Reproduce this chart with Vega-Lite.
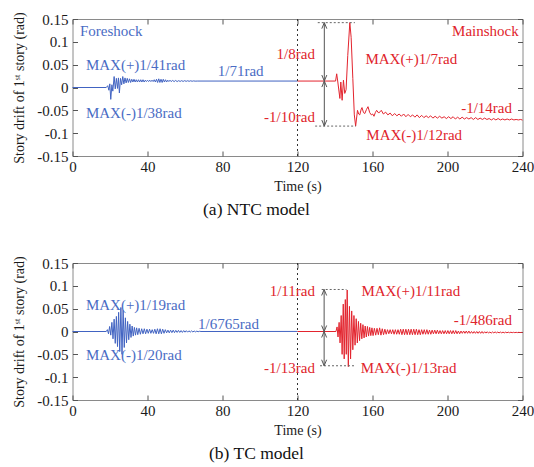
{
"$schema": "https://vega.github.io/schema/vega-lite/v6.json",
"background": "white",
"padding": {"left": 11.5, "top": 11, "right": 0, "bottom": 0},
"spacing": 36,
"datasets": {
"aF": [{"t":0,"v":0},{"t":18,"v":0},{"t":18.8,"v":0.004},{"t":19.4,"v":-0.006},{"t":19.9,"v":0.008},{"t":20.4,"v":-0.026},{"t":21,"v":0.006},{"t":21.5,"v":-0.008},{"t":22.2,"v":0.024},{"t":22.8,"v":-0.003},{"t":23.4,"v":0.02},{"t":24,"v":-0.002},{"t":24.5,"v":0.021},{"t":25,"v":-0.012},{"t":25.6,"v":0.02},{"t":26.2,"v":0.006},{"t":26.8,"v":0.024},{"t":27.4,"v":0.008},{"t":28,"v":0.021},{"t":28.6,"v":0.01},{"t":29.2,"v":0.02},{"t":29.8,"v":0.011},{"t":30.4,"v":0.019},{"t":31,"v":0.011},{"t":31.6,"v":0.018},{"t":32.2,"v":0.012},{"t":32.8,"v":0.018},{"t":33.4,"v":0.012},{"t":34,"v":0.017},{"t":34.6,"v":0.012},{"t":35.2,"v":0.017},{"t":35.8,"v":0.012},{"t":36.4,"v":0.017},{"t":37,"v":0.012},{"t":37.6,"v":0.017},{"t":38.2,"v":0.012},{"t":38.8,"v":0.016},{"t":39.4,"v":0.013},{"t":40,"v":0.016},{"t":40.6,"v":0.013},{"t":41.2,"v":0.016},{"t":41.8,"v":0.013},{"t":42.4,"v":0.016},{"t":43,"v":0.013},{"t":43.6,"v":0.017},{"t":44.2,"v":0.012},{"t":44.8,"v":0.018},{"t":45.4,"v":0.011},{"t":46,"v":0.019},{"t":46.6,"v":0.011},{"t":47.2,"v":0.018},{"t":47.8,"v":0.011},{"t":48.4,"v":0.018},{"t":49,"v":0.012},{"t":49.6,"v":0.017},{"t":50.2,"v":0.012},{"t":50.8,"v":0.016},{"t":51.4,"v":0.013},{"t":52,"v":0.016},{"t":52.6,"v":0.013},{"t":53.4,"v":0.0155},{"t":54.2,"v":0.013},{"t":55,"v":0.0155},{"t":55.8,"v":0.013},{"t":56.6,"v":0.015},{"t":57.4,"v":0.0133},{"t":58.2,"v":0.015},{"t":59,"v":0.0133},{"t":59.8,"v":0.015},{"t":60.6,"v":0.0135},{"t":61.4,"v":0.0148},{"t":62.2,"v":0.0136},{"t":63,"v":0.0147},{"t":63.8,"v":0.0137},{"t":64.6,"v":0.0145},{"t":65.4,"v":0.0139},{"t":66.5,"v":0.0141},{"t":120,"v":0.0141}],
"aM": [{"t":120,"v":0.0141},{"t":140.3,"v":0.0141},{"t":140.9,"v":0.03},{"t":141.5,"v":0.012},{"t":142.6,"v":-0.024},{"t":143.1,"v":0.012},{"t":143.8,"v":-0.028},{"t":144.5,"v":0.016},{"t":145.2,"v":-0.013},{"t":145.9,"v":-0.005},{"t":146.8,"v":0.07},{"t":147.9,"v":0.142},{"t":148.6,"v":0.11},{"t":149.5,"v":0.02},{"t":150.3,"v":-0.06},{"t":151,"v":-0.0845},{"t":152,"v":-0.05},{"t":152.6,"v":-0.058},{"t":153.2,"v":-0.06},{"t":154,"v":-0.047},{"t":154.4,"v":-0.044},{"t":155.2,"v":-0.055},{"t":155.9,"v":-0.057},{"t":156.8,"v":-0.048},{"t":157.6,"v":-0.042},{"t":158.5,"v":-0.055},{"t":159.4,"v":-0.06},{"t":160.1,"v":-0.058},{"t":160.8,"v":-0.063},{"t":161.5,"v":-0.055},{"t":162.2,"v":-0.05},{"t":163.3,"v":-0.056},{"t":164.7,"v":-0.05},{"t":165.8,"v":-0.058},{"t":167,"v":-0.054},{"t":168.2,"v":-0.06},{"t":169.4,"v":-0.056},{"t":170.6,"v":-0.062},{"t":171.8,"v":-0.057},{"t":173,"v":-0.062},{"t":174.2,"v":-0.058},{"t":175.4,"v":-0.063},{"t":176.6,"v":-0.058},{"t":177.8,"v":-0.064},{"t":179,"v":-0.059},{"t":180.2,"v":-0.064},{"t":181.4,"v":-0.06},{"t":182.6,"v":-0.065},{"t":183.8,"v":-0.06},{"t":185,"v":-0.066},{"t":186.2,"v":-0.061},{"t":187.4,"v":-0.066},{"t":188.6,"v":-0.062},{"t":189.8,"v":-0.066},{"t":191,"v":-0.062},{"t":192.2,"v":-0.067},{"t":193.4,"v":-0.063},{"t":194.6,"v":-0.067},{"t":195.8,"v":-0.063},{"t":197,"v":-0.067},{"t":198.2,"v":-0.064},{"t":199.4,"v":-0.068},{"t":200.6,"v":-0.064},{"t":201.8,"v":-0.068},{"t":203,"v":-0.064},{"t":204.2,"v":-0.069},{"t":205.4,"v":-0.065},{"t":206.6,"v":-0.069},{"t":207.8,"v":-0.065},{"t":209,"v":-0.069},{"t":210.2,"v":-0.066},{"t":211.4,"v":-0.069},{"t":212.6,"v":-0.066},{"t":213.8,"v":-0.07},{"t":215,"v":-0.066},{"t":216.2,"v":-0.07},{"t":217.4,"v":-0.067},{"t":218.6,"v":-0.07},{"t":219.8,"v":-0.067},{"t":221,"v":-0.07},{"t":222.2,"v":-0.068},{"t":223.4,"v":-0.071},{"t":224.6,"v":-0.068},{"t":225.8,"v":-0.071},{"t":227,"v":-0.068},{"t":228.2,"v":-0.071},{"t":229.4,"v":-0.069},{"t":230.6,"v":-0.071},{"t":231.8,"v":-0.069},{"t":233,"v":-0.071},{"t":234.2,"v":-0.069},{"t":235.4,"v":-0.071},{"t":236.6,"v":-0.07},{"t":237.8,"v":-0.071},{"t":239,"v":-0.07},{"t":240,"v":-0.0714}],
"bF": [{"t":0,"v":0},{"t":18,"v":0},{"t":18.6,"v":0.004},{"t":19.2,"v":-0.005},{"t":19.8,"v":0.011},{"t":20.4,"v":-0.008},{"t":21,"v":0.02},{"t":21.6,"v":-0.016},{"t":22.2,"v":0.027},{"t":22.8,"v":-0.026},{"t":23.4,"v":0.033},{"t":24,"v":-0.033},{"t":24.6,"v":0.042},{"t":25.2,"v":-0.044},{"t":25.8,"v":0.0526},{"t":26.4,"v":-0.05},{"t":27,"v":0.046},{"t":27.6,"v":-0.035},{"t":28.2,"v":0.03},{"t":28.8,"v":-0.025},{"t":29.4,"v":0.022},{"t":30,"v":-0.018},{"t":30.6,"v":0.016},{"t":31.2,"v":-0.013},{"t":31.8,"v":0.012},{"t":32.4,"v":-0.01},{"t":33,"v":0.009},{"t":33.6,"v":-0.008},{"t":34.2,"v":0.008},{"t":34.8,"v":-0.007},{"t":35.5,"v":0.007},{"t":36.2,"v":-0.006},{"t":36.9,"v":0.006},{"t":37.6,"v":-0.005},{"t":38.3,"v":0.006},{"t":39,"v":-0.005},{"t":39.7,"v":0.005},{"t":40.4,"v":-0.004},{"t":41.1,"v":0.005},{"t":41.8,"v":-0.004},{"t":42.5,"v":0.004},{"t":43.2,"v":-0.004},{"t":43.9,"v":0.005},{"t":44.6,"v":-0.005},{"t":45.3,"v":0.006},{"t":46,"v":-0.005},{"t":46.7,"v":0.006},{"t":47.4,"v":-0.005},{"t":48.1,"v":0.005},{"t":48.8,"v":-0.004},{"t":49.5,"v":0.004},{"t":50.2,"v":-0.003},{"t":50.9,"v":0.003},{"t":51.6,"v":-0.003},{"t":52.3,"v":0.003},{"t":53,"v":-0.0025},{"t":53.7,"v":0.003},{"t":54.4,"v":-0.0025},{"t":55.1,"v":0.0025},{"t":55.8,"v":-0.002},{"t":56.5,"v":0.0025},{"t":57.2,"v":-0.002},{"t":57.9,"v":0.002},{"t":58.6,"v":-0.002},{"t":59.3,"v":0.002},{"t":60,"v":-0.0015},{"t":60.7,"v":0.0018},{"t":61.4,"v":-0.0015},{"t":62.1,"v":0.0015},{"t":62.8,"v":-0.0012},{"t":63.5,"v":0.0013},{"t":64.2,"v":-0.001},{"t":64.9,"v":0.001},{"t":65.6,"v":-0.0008},{"t":66.3,"v":0.0008},{"t":67,"v":-0.0005},{"t":67.7,"v":0.0005},{"t":68.5,"v":0},{"t":120,"v":0.00015}],
"bM": [{"t":120,"v":0},{"t":140.5,"v":0},{"t":141.1,"v":0.01},{"t":141.6,"v":-0.012},{"t":142.2,"v":0.02},{"t":142.7,"v":-0.025},{"t":143.3,"v":0.035},{"t":143.8,"v":-0.05},{"t":144.4,"v":0.06},{"t":144.9,"v":-0.06},{"t":145.5,"v":0.07},{"t":146,"v":-0.05},{"t":146.5,"v":0.0909},{"t":147.1,"v":-0.077},{"t":147.7,"v":0.055},{"t":148.3,"v":-0.06},{"t":148.9,"v":0.045},{"t":149.5,"v":-0.04},{"t":150.1,"v":0.035},{"t":150.7,"v":-0.03},{"t":151.3,"v":0.028},{"t":151.9,"v":-0.025},{"t":152.5,"v":0.022},{"t":153.1,"v":-0.02},{"t":153.7,"v":0.018},{"t":154.3,"v":-0.016},{"t":154.9,"v":0.015},{"t":155.5,"v":-0.014},{"t":156.1,"v":0.012},{"t":156.7,"v":-0.012},{"t":157.3,"v":0.011},{"t":157.9,"v":-0.01},{"t":158.5,"v":0.009},{"t":159.1,"v":-0.009},{"t":159.7,"v":0.008},{"t":160.3,"v":-0.009},{"t":161,"v":0.007},{"t":161.7,"v":-0.008},{"t":162.4,"v":0.007},{"t":163.1,"v":-0.007},{"t":163.8,"v":0.008},{"t":164.5,"v":-0.008},{"t":165.2,"v":0.006},{"t":165.9,"v":-0.007},{"t":166.6,"v":0.005},{"t":167.3,"v":-0.006},{"t":168,"v":0.004},{"t":168.7,"v":-0.005},{"t":169.4,"v":0.004},{"t":170.1,"v":-0.005},{"t":170.8,"v":0.004},{"t":171.5,"v":-0.006},{"t":172.2,"v":0.004},{"t":172.9,"v":-0.006},{"t":173.6,"v":0.004},{"t":174.3,"v":-0.006},{"t":175,"v":0.005},{"t":175.7,"v":-0.007},{"t":176.4,"v":0.005},{"t":177.1,"v":-0.007},{"t":177.8,"v":0.005},{"t":178.5,"v":-0.007},{"t":179.2,"v":0.005},{"t":179.9,"v":-0.007},{"t":180.6,"v":0.005},{"t":181.3,"v":-0.007},{"t":182,"v":0.005},{"t":182.7,"v":-0.007},{"t":183.4,"v":0.005},{"t":184.1,"v":-0.007},{"t":184.8,"v":0.004},{"t":185.5,"v":-0.007},{"t":186.2,"v":0.004},{"t":186.9,"v":-0.006},{"t":187.6,"v":0.004},{"t":188.3,"v":-0.006},{"t":189,"v":0.004},{"t":189.7,"v":-0.006},{"t":190.4,"v":0.003},{"t":191.1,"v":-0.006},{"t":191.8,"v":0.003},{"t":192.5,"v":-0.005},{"t":193.2,"v":0.003},{"t":193.9,"v":-0.005},{"t":194.6,"v":0.003},{"t":195.3,"v":-0.005},{"t":196,"v":0.002},{"t":196.7,"v":-0.005},{"t":197.4,"v":0.002},{"t":198.1,"v":-0.005},{"t":198.8,"v":0.002},{"t":199.5,"v":-0.005},{"t":200.2,"v":0.002},{"t":200.9,"v":-0.005},{"t":201.6,"v":0.002},{"t":202.3,"v":-0.005},{"t":203,"v":0.002},{"t":203.7,"v":-0.005},{"t":204.4,"v":0.002},{"t":205.1,"v":-0.005},{"t":205.8,"v":0.001},{"t":206.5,"v":-0.005},{"t":207.2,"v":0.001},{"t":207.9,"v":-0.004},{"t":208.6,"v":0.001},{"t":209.3,"v":-0.004},{"t":210,"v":0.001},{"t":210.7,"v":-0.004},{"t":211.4,"v":0.001},{"t":212.1,"v":-0.004},{"t":212.8,"v":0},{"t":213.5,"v":-0.004},{"t":214.2,"v":0},{"t":214.9,"v":-0.004},{"t":215.6,"v":0},{"t":216.3,"v":-0.004},{"t":217,"v":0},{"t":217.7,"v":-0.004},{"t":218.4,"v":0},{"t":219.1,"v":-0.004},{"t":219.8,"v":-0.0005},{"t":220.5,"v":-0.0035},{"t":221.2,"v":-0.0005},{"t":221.9,"v":-0.0035},{"t":222.6,"v":-0.001},{"t":223.3,"v":-0.0035},{"t":224,"v":-0.001},{"t":224.7,"v":-0.003},{"t":225.4,"v":-0.001},{"t":226.1,"v":-0.003},{"t":226.8,"v":-0.0012},{"t":227.5,"v":-0.003},{"t":228.2,"v":-0.0012},{"t":228.9,"v":-0.003},{"t":229.6,"v":-0.0013},{"t":230.3,"v":-0.003},{"t":231,"v":-0.0014},{"t":231.7,"v":-0.0028},{"t":232.4,"v":-0.0015},{"t":233.1,"v":-0.0027},{"t":233.8,"v":-0.0016},{"t":234.5,"v":-0.0026},{"t":235.2,"v":-0.0017},{"t":235.9,"v":-0.0025},{"t":236.6,"v":-0.0018},{"t":237.3,"v":-0.0024},{"t":238,"v":-0.0019},{"t":238.7,"v":-0.0023},{"t":239.4,"v":-0.002},{"t":240,"v":-0.0021}],
"aT": [{"t":3.97,"v":0.123,"label":"Foreshock","c":"b","al":"left"},{"t":7.15,"v":0.0487,"label":"MAX(+)1/41rad","c":"b","al":"left"},{"t":7.15,"v":-0.0555,"label":"MAX(-)1/38rad","c":"b","al":"left"},{"t":89.7,"v":0.0356,"label":"1/71rad","c":"b","al":"center"},{"t":129.3,"v":0.0742,"label":"1/8rad","c":"r","al":"right"},{"t":129.3,"v":-0.0642,"label":"-1/10rad","c":"r","al":"right"},{"t":156.2,"v":0.0633,"label":"MAX(+)1/7rad","c":"r","al":"left"},{"t":156.7,"v":-0.104,"label":"MAX(-)1/12rad","c":"r","al":"left"},{"t":234.4,"v":-0.0459,"label":"-1/14rad","c":"r","al":"right"},{"t":238,"v":0.123,"label":"Mainshock","c":"r","al":"right"}],
"bT": [{"t":7.15,"v":0.0588,"label":"MAX(+)1/19rad","c":"b","al":"left"},{"t":7.15,"v":-0.0513,"label":"MAX(-)1/20rad","c":"b","al":"left"},{"t":83.2,"v":0.0163,"label":"1/6765rad","c":"b","al":"center"},{"t":129.3,"v":0.088,"label":"1/11rad","c":"r","al":"right"},{"t":129.3,"v":-0.0806,"label":"-1/13rad","c":"r","al":"right"},{"t":154.1,"v":0.088,"label":"MAX(+)1/11rad","c":"r","al":"left"},{"t":153.7,"v":-0.0806,"label":"MAX(-)1/13rad","c":"r","al":"left"},{"t":234.4,"v":0.0258,"label":"-1/486rad","c":"r","al":"right"}],
"aD": [{"t":130.8,"t2":150.6,"v":0.142},{"t":129.4,"t2":151.1,"v":-0.0845}],
"bD": [{"t":132.9,"t2":146.1,"v":0.092},{"t":132,"t2":150.6,"v":-0.075}],
"aA": [{"t":134.3,"v":0.142,"v2":0.0141},{"t":134.3,"v":0.0141,"v2":-0.0845}],
"bA": [{"t":134.2,"v":0.092,"v2":0},{"t":134.2,"v":0,"v2":-0.075}],
"aH": [{"t":134.3,"v":0.142,"a":0},{"t":134.3,"v":0.0141,"a":180},{"t":134.3,"v":0.0141,"a":0},{"t":134.3,"v":-0.0845,"a":180}],
"bH": [{"t":134.2,"v":0.092,"a":0},{"t":134.2,"v":0,"a":180},{"t":134.2,"v":0,"a":0},{"t":134.2,"v":-0.075,"a":180}]
},
"vconcat": [
{
"width": 450, "height": 137,
"title": {"text": "(a) NTC model", "orient": "bottom", "anchor": "middle", "dx": -41, "offset": 7, "fontSize": 17.5, "font": "Liberation Serif", "fontWeight": "normal", "color": "#111"},
"layer": [
{"layer": [
{"data": {"name": "aF"}, "mark": {"type": "line", "color": "#4163c2", "strokeWidth": 1},
 "encoding": {
  "x": {"field": "t", "type": "quantitative", "scale": {"domain": [0, 240], "nice": false, "zero": false}, "axis": {"values": [0,40,80,120,160,200,240], "tickCount": 20, "title": "Time (s)", "titlePadding": 5, "labelPadding": 8.5, "labelOverlap": false}},
  "y": {"field": "v", "type": "quantitative", "scale": {"domain": [-0.15, 0.15], "nice": false}, "axis": {"values": [-0.15,-0.1,-0.05,0,0.05,0.1,0.15], "tickCount": 20, "labelExpr": "datum.value + ''", "labelOverlap": false, "labelPadding": 9.5, "title": "Story drift of 1ˢᵗ story (rad)", "titlePadding": 10}}}},
{"data": {"name": "aM"}, "mark": {"type": "line", "color": "#e3242e", "strokeWidth": 1},
 "encoding": {"x": {"field": "t", "type": "quantitative"}, "y": {"field": "v", "type": "quantitative"}}},
{"data": {"values": [{"t": 120}]}, "mark": {"type": "rule", "color": "#333", "strokeDash": [2, 3], "strokeWidth": 1},
 "encoding": {"x": {"field": "t", "type": "quantitative"}}},
{"data": {"name": "aD"}, "mark": {"type": "rule", "color": "#666", "strokeDash": [2, 2], "strokeWidth": 1},
 "encoding": {"x": {"field": "t", "type": "quantitative"}, "x2": {"field": "t2"}, "y": {"field": "v", "type": "quantitative"}}},
{"data": {"name": "aA"}, "mark": {"type": "rule", "color": "#555", "strokeWidth": 1},
 "encoding": {"x": {"field": "t", "type": "quantitative"}, "y": {"field": "v", "type": "quantitative"}, "y2": {"field": "v2"}}},
{"data": {"name": "aH"}, "mark": {"type": "point", "shape": "M-1,2.4L0,0L1,2.4", "filled": false, "stroke": "#555", "strokeWidth": 1, "size": 25, "opacity": 1},
 "encoding": {"x": {"field": "t", "type": "quantitative"}, "y": {"field": "v", "type": "quantitative"}, "angle": {"field": "a", "type": "quantitative", "scale": null}}},
{"data": {"name": "aT"}, "transform": [{"filter": "datum.al == 'left'"}], "mark": {"type": "text", "align": "left", "baseline": "middle", "font": "Liberation Serif", "fontSize": 15},
 "encoding": {"x": {"field": "t", "type": "quantitative"}, "y": {"field": "v", "type": "quantitative"}, "text": {"field": "label"}, "color": {"field": "c", "type": "nominal", "scale": {"domain": ["b", "r"], "range": ["#4a6cc4", "#e0242c"]}, "legend": null}}},
{"data": {"name": "aT"}, "transform": [{"filter": "datum.al == 'center'"}], "mark": {"type": "text", "align": "center", "baseline": "middle", "font": "Liberation Serif", "fontSize": 15},
 "encoding": {"x": {"field": "t", "type": "quantitative"}, "y": {"field": "v", "type": "quantitative"}, "text": {"field": "label"}, "color": {"field": "c", "type": "nominal", "scale": {"domain": ["b", "r"], "range": ["#4a6cc4", "#e0242c"]}, "legend": null}}},
{"data": {"name": "aT"}, "transform": [{"filter": "datum.al == 'right'"}], "mark": {"type": "text", "align": "right", "baseline": "middle", "font": "Liberation Serif", "fontSize": 15},
 "encoding": {"x": {"field": "t", "type": "quantitative"}, "y": {"field": "v", "type": "quantitative"}, "text": {"field": "label"}, "color": {"field": "c", "type": "nominal", "scale": {"domain": ["b", "r"], "range": ["#4a6cc4", "#e0242c"]}, "legend": null}}}
]},
{"data": {"values": [{"t": 0, "v": 0}]}, "mark": {"type": "point", "opacity": 0},
 "encoding": {
  "x": {"field": "t", "type": "quantitative", "scale": {"domain": [0, 240], "nice": false, "zero": false}, "axis": {"orient": "top", "labels": false, "title": null, "tickCount": 20, "values": [0,40,80,120,160,200,240]}},
  "y": {"field": "v", "type": "quantitative", "scale": {"domain": [-0.15, 0.15], "nice": false}, "axis": {"orient": "right", "labels": false, "title": null, "tickCount": 20, "values": [-0.15,-0.1,-0.05,0,0.05,0.1,0.15]}}}}
],
"resolve": {"axis": {"x": "independent", "y": "independent"}}
},
{
"width": 450, "height": 137,
"title": {"text": "(b) TC model", "orient": "bottom", "anchor": "middle", "dx": -41, "offset": 7, "fontSize": 17.5, "font": "Liberation Serif", "fontWeight": "normal", "color": "#111"},
"layer": [
{"layer": [
{"data": {"name": "bF"}, "mark": {"type": "line", "color": "#4163c2", "strokeWidth": 1},
 "encoding": {
  "x": {"field": "t", "type": "quantitative", "scale": {"domain": [0, 240], "nice": false, "zero": false}, "axis": {"values": [0,40,80,120,160,200,240], "tickCount": 20, "title": "Time (s)", "titlePadding": 5, "labelPadding": 8.5, "labelOverlap": false}},
  "y": {"field": "v", "type": "quantitative", "scale": {"domain": [-0.15, 0.15], "nice": false}, "axis": {"values": [-0.15,-0.1,-0.05,0,0.05,0.1,0.15], "tickCount": 20, "labelExpr": "datum.value + ''", "labelOverlap": false, "labelPadding": 9.5, "title": "Story drift of 1ˢᵗ story (rad)", "titlePadding": 10}}}},
{"data": {"name": "bM"}, "mark": {"type": "line", "color": "#e3242e", "strokeWidth": 1},
 "encoding": {"x": {"field": "t", "type": "quantitative"}, "y": {"field": "v", "type": "quantitative"}}},
{"data": {"values": [{"t": 120}]}, "mark": {"type": "rule", "color": "#333", "strokeDash": [2, 3], "strokeWidth": 1},
 "encoding": {"x": {"field": "t", "type": "quantitative"}}},
{"data": {"name": "bD"}, "mark": {"type": "rule", "color": "#666", "strokeDash": [2, 2], "strokeWidth": 1},
 "encoding": {"x": {"field": "t", "type": "quantitative"}, "x2": {"field": "t2"}, "y": {"field": "v", "type": "quantitative"}}},
{"data": {"name": "bA"}, "mark": {"type": "rule", "color": "#555", "strokeWidth": 1},
 "encoding": {"x": {"field": "t", "type": "quantitative"}, "y": {"field": "v", "type": "quantitative"}, "y2": {"field": "v2"}}},
{"data": {"name": "bH"}, "mark": {"type": "point", "shape": "M-1,2.4L0,0L1,2.4", "filled": false, "stroke": "#555", "strokeWidth": 1, "size": 25, "opacity": 1},
 "encoding": {"x": {"field": "t", "type": "quantitative"}, "y": {"field": "v", "type": "quantitative"}, "angle": {"field": "a", "type": "quantitative", "scale": null}}},
{"data": {"name": "bT"}, "transform": [{"filter": "datum.al == 'left'"}], "mark": {"type": "text", "align": "left", "baseline": "middle", "font": "Liberation Serif", "fontSize": 15},
 "encoding": {"x": {"field": "t", "type": "quantitative"}, "y": {"field": "v", "type": "quantitative"}, "text": {"field": "label"}, "color": {"field": "c", "type": "nominal", "scale": {"domain": ["b", "r"], "range": ["#4a6cc4", "#e0242c"]}, "legend": null}}},
{"data": {"name": "bT"}, "transform": [{"filter": "datum.al == 'center'"}], "mark": {"type": "text", "align": "center", "baseline": "middle", "font": "Liberation Serif", "fontSize": 15},
 "encoding": {"x": {"field": "t", "type": "quantitative"}, "y": {"field": "v", "type": "quantitative"}, "text": {"field": "label"}, "color": {"field": "c", "type": "nominal", "scale": {"domain": ["b", "r"], "range": ["#4a6cc4", "#e0242c"]}, "legend": null}}},
{"data": {"name": "bT"}, "transform": [{"filter": "datum.al == 'right'"}], "mark": {"type": "text", "align": "right", "baseline": "middle", "font": "Liberation Serif", "fontSize": 15},
 "encoding": {"x": {"field": "t", "type": "quantitative"}, "y": {"field": "v", "type": "quantitative"}, "text": {"field": "label"}, "color": {"field": "c", "type": "nominal", "scale": {"domain": ["b", "r"], "range": ["#4a6cc4", "#e0242c"]}, "legend": null}}}
]},
{"data": {"values": [{"t": 0, "v": 0}]}, "mark": {"type": "point", "opacity": 0},
 "encoding": {
  "x": {"field": "t", "type": "quantitative", "scale": {"domain": [0, 240], "nice": false, "zero": false}, "axis": {"orient": "top", "labels": false, "title": null, "tickCount": 20, "values": [0,40,80,120,160,200,240]}},
  "y": {"field": "v", "type": "quantitative", "scale": {"domain": [-0.15, 0.15], "nice": false}, "axis": {"orient": "right", "labels": false, "title": null, "tickCount": 20, "values": [-0.15,-0.1,-0.05,0,0.05,0.1,0.15]}}}}
],
"resolve": {"axis": {"x": "independent", "y": "independent"}}
}
],
"config": {
 "view": {"stroke": "#8a8a8a", "strokeWidth": 1},
 "axis": {"grid": false, "domain": false, "tickColor": "#555", "tickSize": -5, "tickWidth": 1, "labelFont": "Liberation Serif", "labelFontSize": 15, "labelColor": "#1a1a1a", "labelFlush": false, "labelOverlap": false, "labelPadding": 4, "titleFont": "Liberation Serif", "titleFontSize": 14, "titleFontWeight": "normal", "titleColor": "#1a1a1a"},
 "text": {"font": "Liberation Serif", "fontSize": 15}
}
}
